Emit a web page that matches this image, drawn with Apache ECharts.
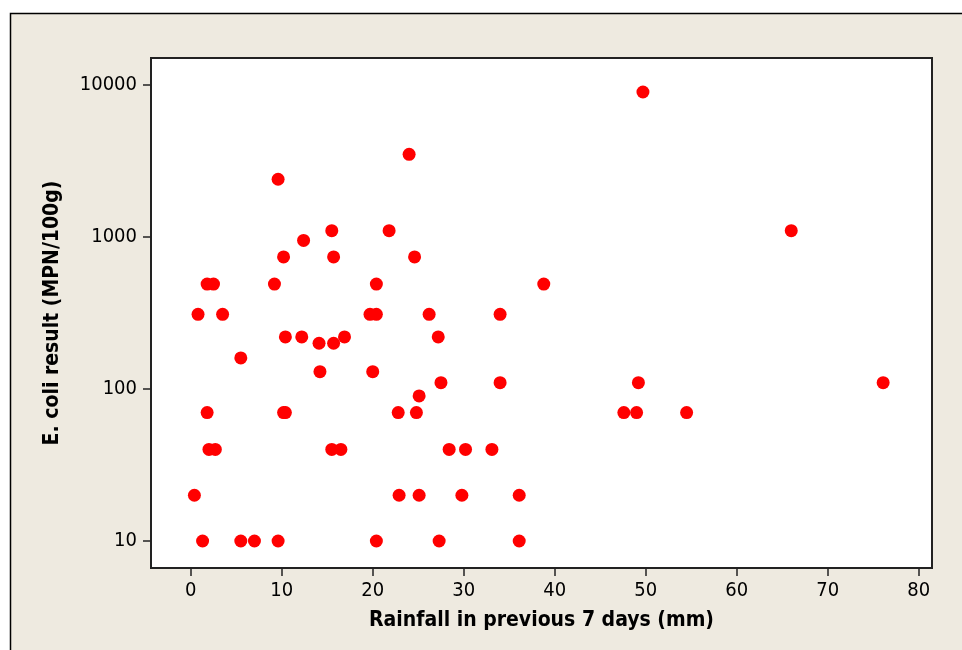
<!DOCTYPE html>
<html>
<head>
<meta charset="utf-8">
<script src="https://cdn.jsdelivr.net/npm/echarts@6/dist/echarts.min.js"></script>
<style>
html,body{margin:0;padding:0;background:#ffffff;}
#chart{width:962px;height:650px;}
</style>
</head>
<body>
<div id="chart"></div>
<script>
// Rainfall in previous 7 days (mm)
const rainfall = [
  24.0, 9.6, 15.5, 21.8, 12.4, 10.2, 15.7, 24.6,
  1.8, 2.5, 9.2, 20.4, 38.8,
  0.8, 3.5, 19.7, 20.4, 26.2, 34.0,
  10.4, 12.2, 16.9, 27.2, 14.1, 15.7,
  5.5, 14.2, 20.0, 27.5, 34.0, 25.1,
  1.8, 10.2, 10.4, 22.8, 24.8,
  2.0, 2.7, 15.5, 16.5, 28.4, 30.2, 33.1,
  0.4, 22.9, 25.1, 29.8, 36.1,
  1.3, 5.5, 7.0, 9.6, 20.4, 27.3, 36.1,
  49.7, 66.0, 76.1, 49.2, 47.6, 49.0, 54.5
];
// E. coli result (MPN/100g)
const ecoli = [
  3500, 2400, 1100, 1100, 950, 740, 740, 740,
  490, 490, 490, 490, 490,
  310, 310, 310, 310, 310, 310,
  220, 220, 220, 220, 200, 200,
  160, 130, 130, 110, 110, 90,
  70, 70, 70, 70, 70,
  40, 40, 40, 40, 40, 40, 40,
  20, 20, 20, 20, 20,
  10, 10, 10, 10, 10, 10, 10,
  9000, 1100, 110, 110, 70, 70, 70
];
const xTicks = [0, 10, 20, 30, 40, 50, 60, 70, 80];
const yTicks = [10, 100, 1000, 10000];
const xTitle = 'Rainfall in previous 7 days (mm)';
const yTitle = 'E. coli result (MPN/100g)';

const points = rainfall.map((r, i) => [r, ecoli[i]]);
const FONT = "'DejaVu Sans Condensed', 'DejaVu Sans', sans-serif";

const chart = echarts.init(document.getElementById('chart'), null, {renderer: 'canvas'});
chart.setOption({
  animation: false,
  backgroundColor: '#ffffff',
  graphic: [{
    type: 'rect',
    z: -10,
    shape: {x: 10.5, y: 13.5, width: 1000, height: 700},
    style: {fill: '#EEEAE0', stroke: '#000000', lineWidth: 1.5}
  }],
  grid: {
    left: 151, right: 30, top: 58, bottom: 82,
    show: true, backgroundColor: '#ffffff', borderColor: '#222222', borderWidth: 2
  },
  xAxis: {
    type: 'value',
    min: -4.37, max: 81.47,
    name: xTitle,
    nameLocation: 'middle',
    nameGap: 42,
    nameTextStyle: {fontFamily: FONT, fontSize: 21, fontWeight: 'bold', color: '#000'},
    axisLine: {show: true, onZero: false, lineStyle: {color: '#222', width: 2}},
    axisTick: {show: true, length: 8, lineStyle: {color: '#222', width: 1.5}, customValues: xTicks},
    axisLabel: {customValues: xTicks, fontFamily: FONT, fontSize: 20, color: '#000', margin: 13,
      formatter: v => String(v)},
    splitLine: {show: false}
  },
  yAxis: {
    type: 'log',
    logBase: 10,
    min: 6.64, max: 15060,
    name: yTitle,
    nameLocation: 'middle',
    nameGap: 88,
    nameTextStyle: {fontFamily: FONT, fontSize: 21, fontWeight: 'bold', color: '#000'},
    axisLine: {show: true, onZero: false, lineStyle: {color: '#222', width: 2}},
    axisTick: {show: true, length: 8, lineStyle: {color: '#222', width: 1.5}, customValues: yTicks},
    axisLabel: {customValues: yTicks, fontFamily: FONT, fontSize: 20, color: '#000', margin: 14,
      formatter: v => String(Math.round(v))},
    splitLine: {show: false},
    minorTick: {show: false}
  },
  series: [{
    type: 'scatter',
    data: points,
    symbol: 'circle',
    symbolSize: 13,
    itemStyle: {color: '#FF0000', opacity: 1},
    emphasis: {disabled: true}
  }]
});
</script>
</body>
</html>
